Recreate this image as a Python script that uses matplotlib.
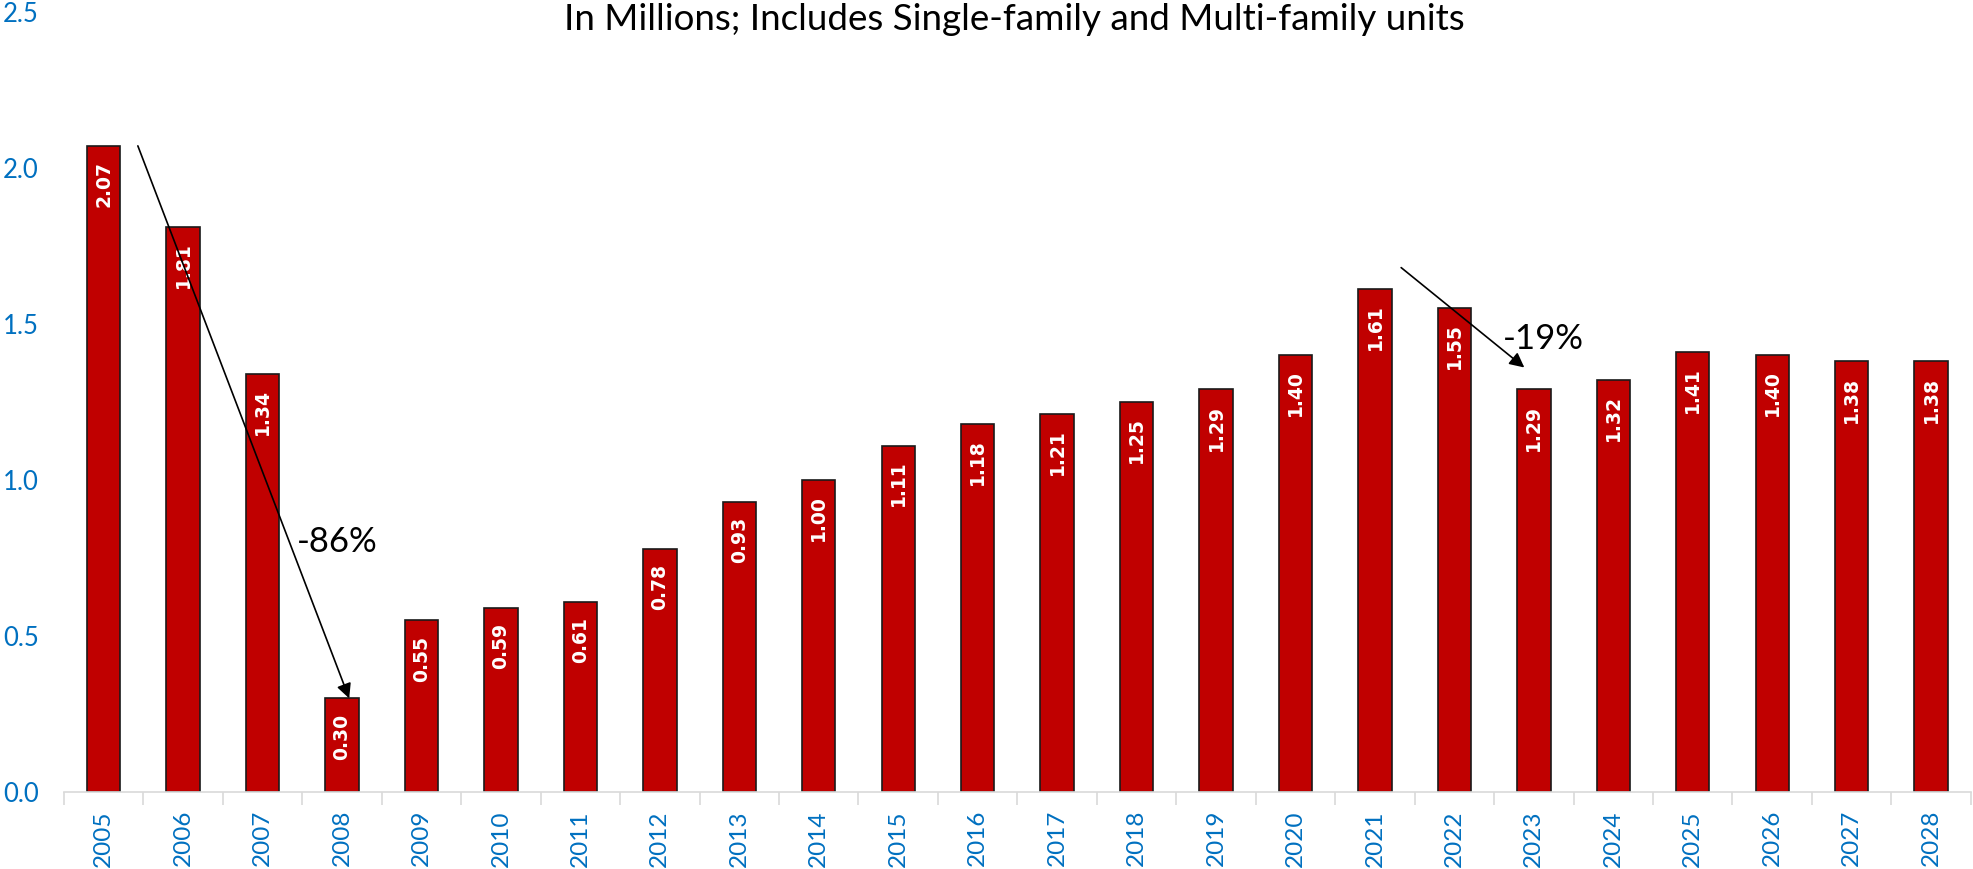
import matplotlib.pyplot as plt
import numpy as np

years = [str(y) for y in range(2005, 2029)]
starts = [2.07, 1.81, 1.34, 0.30, 0.55, 0.59, 0.61, 0.78, 0.93, 1.00, 1.11, 1.18,
          1.21, 1.25, 1.29, 1.40, 1.61, 1.55, 1.29, 1.32, 1.41, 1.40, 1.38, 1.38]
y_ticks = [0.0, 0.5, 1.0, 1.5, 2.0, 2.5]
title = "In Millions; Includes Single-family and Multi-family units"

# arrow annotations: (text, tail, head, text position) in data coords
drops = [
    ("-86%", (0.43, 2.07), (3.09, 0.30), (2.94, 0.80)),
    ("-19%", (16.33, 1.68), (17.88, 1.36), (18.12, 1.45)),
]

plt.rcParams['font.family'] = ['Lato', 'DejaVu Sans']
blue = '#0070C0'

fig = plt.figure(figsize=(19.74, 8.69), dpi=100)
ax = fig.add_axes([0.0324, 0.0886, 0.966, 0.898])

x = np.arange(len(years))
ax.bar(x, starts, width=0.42, color='#C00000', edgecolor='#1a1a1a', linewidth=1.2)

for xi, v in zip(x, starts):
    ax.annotate(f"{v:.2f}", xy=(xi, v), xytext=(0, -11), textcoords='offset points',
                rotation=90, ha='center', va='top', color='white',
                fontsize=13.5, fontweight='bold', family='DejaVu Sans')

for txt, tail, head, tpos in drops:
    ax.annotate("", xy=head, xytext=tail,
                arrowprops=dict(arrowstyle='-|>', color='black', lw=1.2,
                                mutation_scale=22, shrinkA=0, shrinkB=0))
    ax.text(tpos[0], tpos[1], txt, ha='center', va='center', fontsize=25, color='black')

ax.set_xlim(-0.5, len(years) - 0.5)
ax.set_ylim(0, 2.5)
ax.set_yticks(y_ticks)
ax.set_yticklabels([f"{t:.1f}" for t in y_ticks], color=blue, fontsize=18.5)
ax.set_xticks(x)
ax.set_xticklabels(years, rotation=90, color=blue, fontsize=17.5)
ax.set_xticks(np.arange(-0.5, len(years)), minor=True)
ax.tick_params(axis='x', which='major', length=0, pad=13)
ax.tick_params(axis='x', which='minor', length=9, color='#D9D9D9', width=1.2)
ax.tick_params(axis='y', length=0, pad=18)

for s in ['top', 'right', 'left']:
    ax.spines[s].set_visible(False)
ax.spines['bottom'].set_color('#D9D9D9')
ax.spines['bottom'].set_linewidth(1.2)

fig.text(0.514, 0.997, title, ha='center', va='top', fontsize=26.5)

fig.savefig("out.png", dpi=100)
